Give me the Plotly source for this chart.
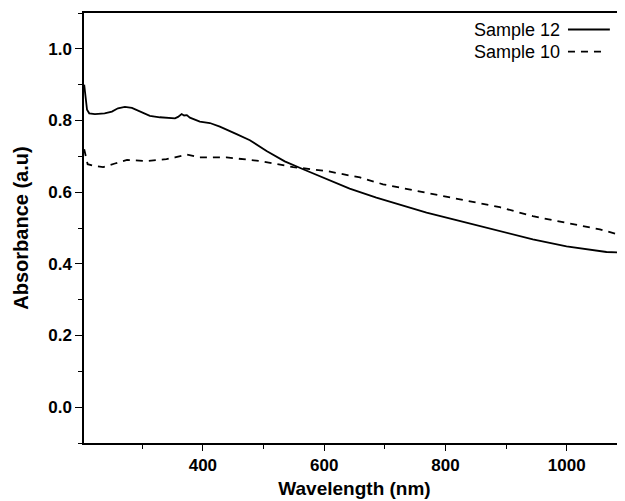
import plotly.graph_objects as go

# Sample 12 (solid)
wl_s12 = [204.3, 206.3, 209, 212.6, 222, 238, 250, 260, 271.4, 283, 296, 312.6, 329, 345.6,
          354, 359, 365, 369, 373.6, 378.6, 395, 411.5, 428, 455.6, 477.5, 505, 535, 565.3,
          604, 642, 686, 724.8, 768.8, 818, 856.6, 889.6, 944, 999.6, 1038, 1065.5, 1095.7]
abs_s12 = [0.90, 0.87, 0.83, 0.82, 0.818, 0.82, 0.825, 0.834, 0.838, 0.835, 0.825, 0.813, 0.809, 0.807,
           0.806, 0.810, 0.818, 0.814, 0.815, 0.808, 0.797, 0.793, 0.783, 0.762, 0.745, 0.715, 0.686, 0.664,
           0.636, 0.610, 0.585, 0.565, 0.543, 0.522, 0.505, 0.491, 0.468, 0.449, 0.440, 0.433, 0.431]

# Sample 10 (dashed)
wl_s10 = [204.3, 207, 210, 222, 235.6, 255, 275, 307, 340, 354, 373, 395, 439, 494, 549, 604,
          659, 697, 790.7, 889.6, 944, 999.6, 1054.5, 1095.7]
abs_s10 = [0.72, 0.70, 0.678, 0.673, 0.670, 0.680, 0.690, 0.687, 0.692, 0.697, 0.705, 0.697, 0.697,
           0.687, 0.670, 0.659, 0.641, 0.622, 0.590, 0.558, 0.533, 0.515, 0.496, 0.477]

names = ["Sample 12", "Sample 10"]
x_ticks = [400, 600, 800, 1000]
y_ticks = [0.0, 0.2, 0.4, 0.6, 0.8, 1.0]

FONT = "Liberation Sans, Arial, sans-serif"

fig = go.Figure()
fig.add_trace(go.Scatter(x=wl_s12, y=abs_s12, mode="lines", name=names[0],
                         line=dict(color="#000000", width=1.8), showlegend=False))
fig.add_trace(go.Scatter(x=wl_s10, y=abs_s10, mode="lines", name=names[1],
                         line=dict(color="#000000", width=1.8, dash="7px,6px"), showlegend=False))

# the page body adds an 8px margin, so the figure is sized/placed to compensate
fig.update_layout(
    width=617, height=493,
    margin=dict(l=76, r=0, t=5, b=58),
    paper_bgcolor="white", plot_bgcolor="white",
    font=dict(family=FONT, color="black"),
    xaxis=dict(
        range=[204, 1096], tickvals=x_ticks, ticktext=[str(v) for v in x_ticks],
        showline=True, linecolor="black", linewidth=1.5, mirror=True, automargin=False,
        ticks="outside", ticklen=6, tickwidth=1.2, tickcolor="black",
        minor=dict(dtick=100, tick0=0, ticks="outside", ticklen=4, tickwidth=1.2, tickcolor="black", showgrid=False),
        showgrid=False, zeroline=False,
        tickfont=dict(size=17, family=FONT, color="black", weight="bold"),
        title=dict(text="<b>Wavelength (nm)</b>", font=dict(size=19, family=FONT, color="black"), standoff=8),
    ),
    yaxis=dict(
        range=[-0.1, 1.1], tickvals=y_ticks, ticktext=["%.1f" % v for v in y_ticks],
        showline=True, linecolor="black", linewidth=1.5, mirror=False, automargin=False,
        ticks="outside", ticklen=7, tickwidth=1.2, tickcolor="black",
        minor=dict(dtick=0.1, tick0=0, ticks="outside", ticklen=4, tickwidth=1.2, tickcolor="black", showgrid=False),
        showgrid=False, zeroline=False,
        tickfont=dict(size=17, family=FONT, color="black", weight="bold"),
        title=dict(text="<b>Absorbance (a.u)</b>", font=dict(size=20, family=FONT, color="black"), standoff=14),
    ),
)

# Legend drawn as text + line samples (text left of line, as in the reference)
legend_rows = [(names[0], 0.9616, "solid", 0.972), (names[1], 0.910, "7px,6px", 0.959)]
for label, yy, dash, xend in legend_rows:
    fig.add_annotation(xref="paper", yref="paper", x=0.8836, y=yy, text=label, showarrow=False,
                       xanchor="right", yanchor="middle", xshift=0,
                       font=dict(size=18, family=FONT, color="black"))
    fig.add_shape(type="line", xref="paper", yref="paper", x0=0.8946, x1=xend,
                  y0=yy, y1=yy, line=dict(color="black", width=1.8, dash=dash))

fig.write_html("out.html")
